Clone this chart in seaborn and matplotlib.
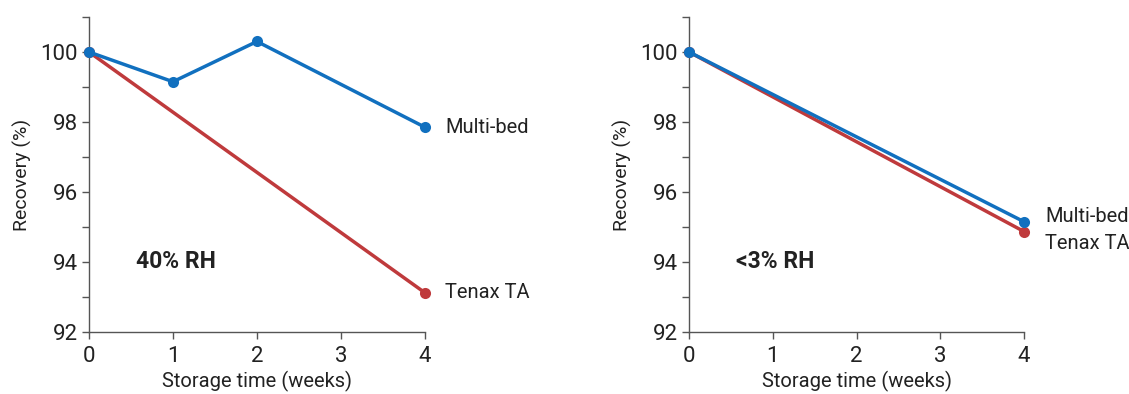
import matplotlib
matplotlib.use("Agg")
import matplotlib.pyplot as plt
import seaborn as sns
import pandas as pd
from matplotlib.ticker import MultipleLocator

# Data
weeks_multi_40 = [0, 1, 2, 4]
multi_40 = [100.0, 99.15, 100.3, 97.85]
weeks_tenax_40 = [0, 4]
tenax_40 = [100.0, 93.12]

weeks_multi_3 = [0, 4]
multi_3 = [100.0, 95.15]
weeks_tenax_3 = [0, 4]
tenax_3 = [100.0, 94.87]

panel_labels = ["40% RH", "<3% RH"]
series_names = ["Multi-bed", "Tenax TA"]
x_ticks = [0, 1, 2, 3, 4]
y_ticks = [92, 94, 96, 98, 100]

BLUE = "#1170BF"
RED = "#BF3A3C"
TXT = "#222222"

sns.set_theme(style="ticks")
plt.rcParams['font.family'] = ['Roboto', 'DejaVu Sans']

fig = plt.figure(figsize=(11.29, 3.94), dpi=100)
ax1 = fig.add_axes([0.0788, 0.1574, 0.2976, 0.7995])
ax2 = fig.add_axes([0.6103, 0.1574, 0.2967, 0.7995])

panels = [
    (ax1, weeks_multi_40, multi_40, weeks_tenax_40, tenax_40, panel_labels[0]),
    (ax2, weeks_multi_3, multi_3, weeks_tenax_3, tenax_3, panel_labels[1]),
]

for ax, wm, vm, wt, vt, lab in panels:
    dt = pd.DataFrame({"week": wt, "rec": vt})
    dm = pd.DataFrame({"week": wm, "rec": vm})
    sns.lineplot(data=dt, x="week", y="rec", ax=ax, color=RED, lw=2.5,
                 marker="o", markersize=8, markeredgewidth=0, clip_on=False, zorder=3)
    sns.lineplot(data=dm, x="week", y="rec", ax=ax, color=BLUE, lw=2.5,
                 marker="o", markersize=8, markeredgewidth=0, clip_on=False, zorder=4)
    ax.set_xlim(0, 4)
    ax.set_ylim(92, 101)
    ax.set_xticks(x_ticks)
    ax.set_yticks(y_ticks)
    ax.yaxis.set_minor_locator(MultipleLocator(1))
    ax.tick_params(axis="both", which="both", direction="out", length=5, width=1,
                   color="#555555", labelsize=16, labelcolor=TXT, pad=3)
    ax.tick_params(axis="x", which="major", pad=5)
    ax.tick_params(axis="y", which="minor", length=5)
    for s in ["top", "right"]:
        ax.spines[s].set_visible(False)
    for s in ["left", "bottom"]:
        ax.spines[s].set_color("#555555")
        ax.spines[s].set_linewidth(1)
    ax.set_xlabel("Storage time (weeks)", fontsize=14.5, color=TXT, labelpad=3)
    ax.set_ylabel("Recovery (%)", fontsize=14, color=TXT, labelpad=6)
    ax.text(0.56, 94.0, lab, fontsize=16.5, fontweight="bold", color=TXT,
            ha="left", va="center")

# series labels
ax1.text(4.24, multi_40[-1], series_names[0], fontsize=14.5, color=TXT, va="center", ha="left")
ax1.text(4.24, tenax_40[-1], series_names[1], fontsize=14.5, color=TXT, va="center", ha="left")
ax2.text(4.25, multi_3[-1] + 0.15, series_names[0], fontsize=14.5, color=TXT, va="center", ha="left")
ax2.text(4.25, tenax_3[-1] - 0.35, series_names[1], fontsize=14.5, color=TXT, va="center", ha="left")

fig.savefig("out.png", dpi=100)
